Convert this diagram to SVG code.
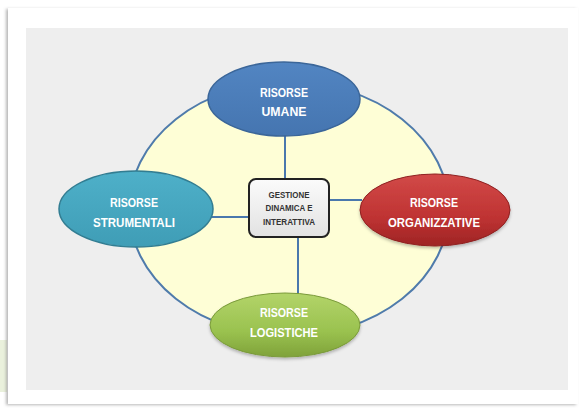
<svg xmlns="http://www.w3.org/2000/svg" width="580" height="408" viewBox="0 0 580 408">
  <defs>
    <style>
      .lbl { font-family: "Liberation Sans", Arial, sans-serif; font-weight: bold; font-size: 13px; fill: #ffffff; text-anchor: middle; }
      .ctr { font-family: "Liberation Sans", Arial, sans-serif; font-weight: bold; font-size: 8.6px; fill: #333333; text-anchor: middle; }
      .conn { stroke: #4a78ad; stroke-width: 2; fill: none; }
    </style>
    <linearGradient id="gBlue" x1="0" y1="0" x2="0" y2="1">
      <stop offset="0" stop-color="#5285c2"/>
      <stop offset="1" stop-color="#4575b0"/>
    </linearGradient>
    <linearGradient id="gTeal" x1="0" y1="0" x2="0" y2="1">
      <stop offset="0" stop-color="#4eb0c9"/>
      <stop offset="1" stop-color="#3f9db6"/>
    </linearGradient>
    <linearGradient id="gRed" x1="0" y1="0" x2="0" y2="1">
      <stop offset="0" stop-color="#d24a48"/>
      <stop offset="0.6" stop-color="#bf3333"/>
      <stop offset="1" stop-color="#9e2424"/>
    </linearGradient>
    <linearGradient id="gGreen" x1="0" y1="0" x2="0" y2="1">
      <stop offset="0" stop-color="#b3d46a"/>
      <stop offset="0.6" stop-color="#9ac24f"/>
      <stop offset="1" stop-color="#7fa23a"/>
    </linearGradient>
    <linearGradient id="gBox" x1="0" y1="0" x2="0" y2="1">
      <stop offset="0" stop-color="#fbfbfb"/>
      <stop offset="1" stop-color="#e2e2e2"/>
    </linearGradient>
    <filter id="cardShadow" x="-5%" y="-5%" width="110%" height="110%">
      <feDropShadow dx="-2" dy="1" stdDeviation="1.5" flood-color="#888888" flood-opacity="0.6"/>
    </filter>
    <filter id="soft" x="-10%" y="-10%" width="120%" height="130%">
      <feDropShadow dx="0" dy="2" stdDeviation="1.5" flood-color="#000000" flood-opacity="0.25"/>
    </filter>
  </defs>

  <rect x="0" y="0" width="580" height="408" fill="#ffffff"/>
  <rect x="0" y="340" width="7" height="52" fill="#eaf1dc"/>
  <rect x="8" y="8" width="570" height="396" fill="#ffffff" filter="url(#cardShadow)"/>
  <rect x="26" y="28" width="542" height="362" fill="#eeeeee"/>

  <g id="cerchio">
    <ellipse cx="289" cy="209" rx="160" ry="127" fill="#fefed6" stroke="#4f7bab" stroke-width="2"/>
  </g>

  <g id="connectors">
    <line class="conn" x1="285" y1="134" x2="285" y2="179"/>
    <line class="conn" x1="329" y1="200" x2="362" y2="200"/>
    <line class="conn" x1="211" y1="217" x2="249" y2="217"/>
    <line class="conn" x1="298" y1="237" x2="298" y2="295"/>
  </g>

  <g id="risorse-umane">
    <ellipse cx="284" cy="99" rx="76" ry="37" fill="url(#gBlue)" stroke="#3b6699" stroke-width="1.5"/>
    <text class="lbl" x="284" y="97" textLength="48" lengthAdjust="spacingAndGlyphs">RISORSE</text>
    <text class="lbl" x="284" y="116" textLength="45" lengthAdjust="spacingAndGlyphs">UMANE</text>
  </g>

  <g id="risorse-strumentali">
    <ellipse cx="136" cy="209" rx="77" ry="38" fill="url(#gTeal)" stroke="#327d92" stroke-width="1.5"/>
    <text class="lbl" x="134" y="207" textLength="48" lengthAdjust="spacingAndGlyphs">RISORSE</text>
    <text class="lbl" x="134" y="227" textLength="82" lengthAdjust="spacingAndGlyphs">STRUMENTALI</text>
  </g>

  <g id="risorse-organizzative">
    <ellipse cx="435" cy="210" rx="75" ry="36" fill="url(#gRed)" stroke="#8e2020" stroke-width="1" filter="url(#soft)"/>
    <text class="lbl" x="434" y="207" textLength="48" lengthAdjust="spacingAndGlyphs">RISORSE</text>
    <text class="lbl" x="434" y="227" textLength="92" lengthAdjust="spacingAndGlyphs">ORGANIZZATIVE</text>
  </g>

  <g id="risorse-logistiche">
    <ellipse cx="285" cy="325" rx="75" ry="32" fill="url(#gGreen)" stroke="#7a9a3a" stroke-width="1" filter="url(#soft)"/>
    <text class="lbl" x="284" y="317" textLength="48" lengthAdjust="spacingAndGlyphs">RISORSE</text>
    <text class="lbl" x="284" y="337" textLength="68" lengthAdjust="spacingAndGlyphs">LOGISTICHE</text>
  </g>

  <g id="gestione">
    <rect x="249" y="179" width="80" height="58" rx="7" ry="7" fill="url(#gBox)" stroke="#222222" stroke-width="2"/>
    <text class="ctr" x="289" y="198" textLength="41" lengthAdjust="spacingAndGlyphs">GESTIONE</text>
    <text class="ctr" x="289" y="211" textLength="47" lengthAdjust="spacingAndGlyphs">DINAMICA E</text>
    <text class="ctr" x="289" y="225" textLength="52" lengthAdjust="spacingAndGlyphs">INTERATTIVA</text>
  </g>
</svg>
